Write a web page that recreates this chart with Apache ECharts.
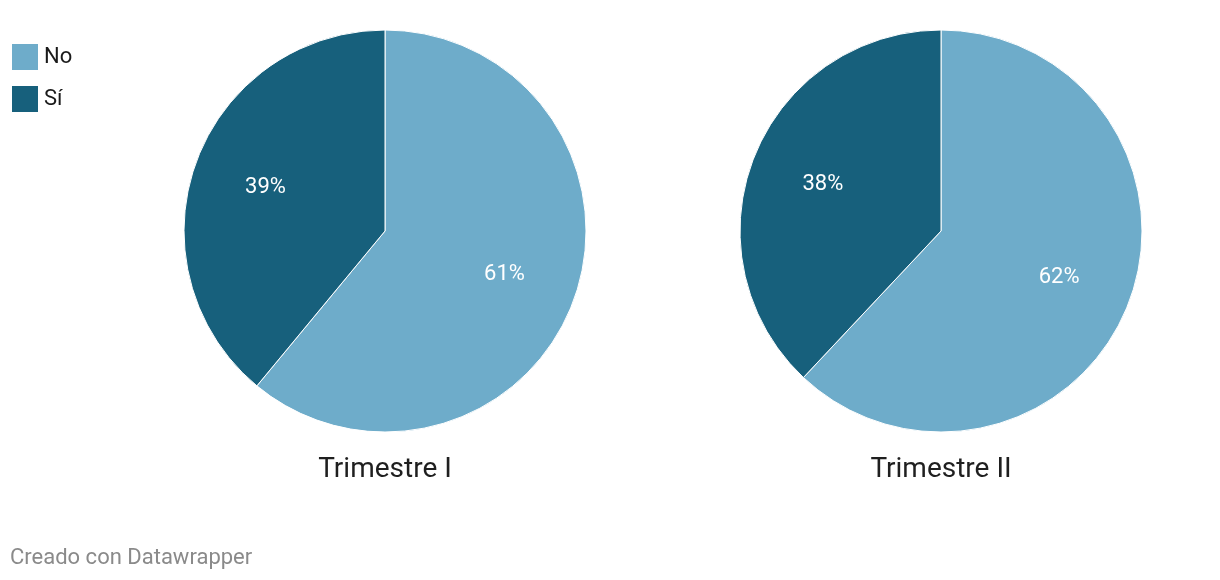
<!DOCTYPE html>
<html><head><meta charset="utf-8">
<script src="https://cdn.jsdelivr.net/npm/echarts@6/dist/echarts.min.js"></script>
<style>html,body{margin:0;padding:0;background:#fff}#c{width:1220px;height:580px}</style>
</head><body><div id="c"></div>
<script>
const categories = ['No', 'Sí'];
const panels = ['Trimestre I', 'Trimestre II'];
const values1 = [61, 39];
const values2 = [62, 38];
const colors = ['#6eacca', '#17607c'];
const centers = [[385, 231], [941, 231]];
const allValues = [values1, values2];

const chart = echarts.init(document.getElementById('c'), null, {renderer: 'canvas'});
const series = [];
allValues.forEach((vals, i) => {
  const data = categories.map((c, j) => ({name: c, value: vals[j], itemStyle: {color: colors[j]}}));
  series.push({
    type: 'pie', center: centers[i], radius: [0, 201], startAngle: 90, clockwise: true,
    silent: true, animation: false,
    itemStyle: {borderColor: '#fff', borderWidth: 1},
    label: {show: false}, labelLine: {show: false}, data
  });
  series.push({
    type: 'pie', center: centers[i], radius: [0, 248], startAngle: 90, clockwise: true,
    silent: true, animation: false, legendHoverLink: false,
    itemStyle: {color: 'transparent', borderWidth: 0},
    label: {show: true, position: 'inside', formatter: '{c}%', color: '#fff', fontSize: 22, fontFamily: 'Roboto'},
    labelLine: {show: false},
    data: categories.map((c, j) => ({name: c + ' ', value: vals[j]}))
  });
});
chart.setOption({
  animation: false,
  legend: {
    orient: 'vertical', left: 10, top: 42, padding: 0, itemWidth: 28, itemHeight: 28, itemGap: 12,
    icon: 'rect', data: categories,
    textStyle: {fontSize: 22, lineHeight: 28, fontFamily: 'Roboto', color: '#1a1a1a'}
  },
  title: [
    {text: panels[0], left: 385, top: 456, padding: 0, textAlign: 'center', textStyle: {fontSize: 28, fontWeight: 'normal', fontFamily: 'Roboto', color: '#1f1f1f'}},
    {text: panels[1], left: 941, top: 456, padding: 0, textAlign: 'center', textStyle: {fontSize: 28, fontWeight: 'normal', fontFamily: 'Roboto', color: '#1f1f1f'}},
    {text: 'Creado con Datawrapper', left: 10, top: 547, padding: 0, textStyle: {fontSize: 22, fontWeight: 'normal', fontFamily: 'Roboto', color: '#8a8a8a'}}
  ],
  series
});
</script></body></html>
